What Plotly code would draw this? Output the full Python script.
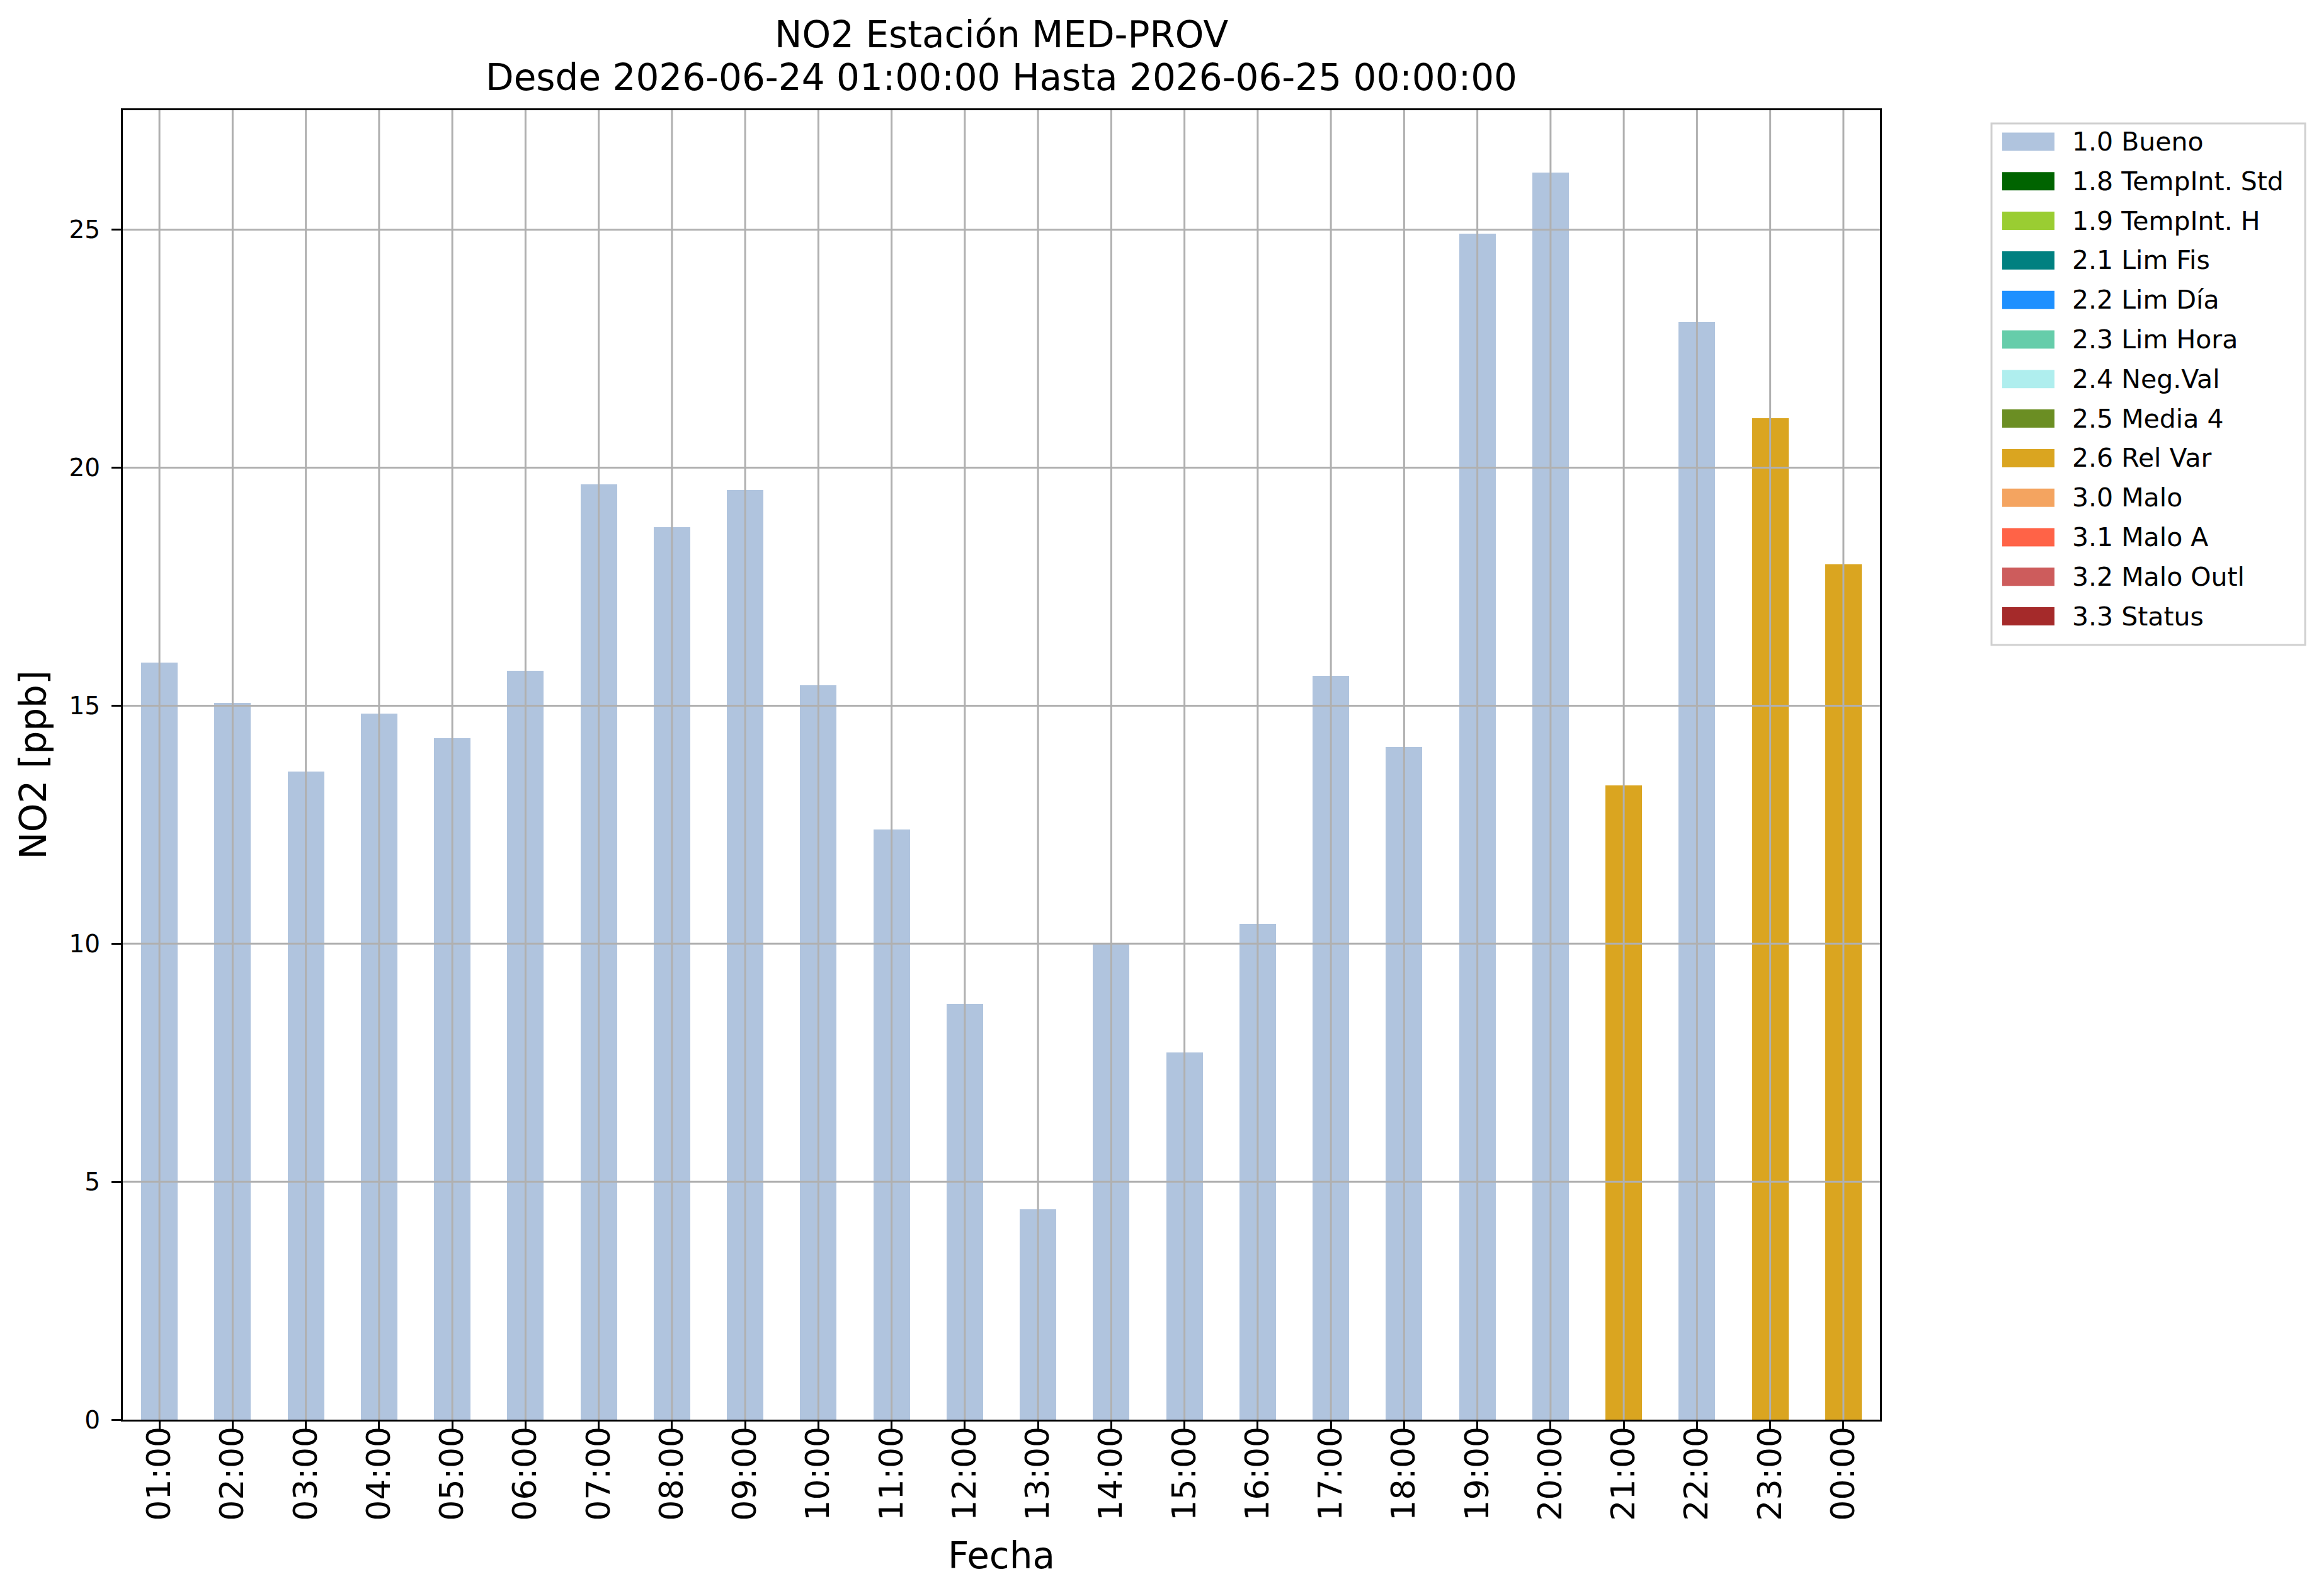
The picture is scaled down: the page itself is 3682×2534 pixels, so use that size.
import plotly.graph_objects as go

# hourly NO2 values, station MED-PROV
horas = ["01:00", "02:00", "03:00", "04:00", "05:00", "06:00", "07:00", "08:00",
         "09:00", "10:00", "11:00", "12:00", "13:00", "14:00", "15:00", "16:00",
         "17:00", "18:00", "19:00", "20:00", "21:00", "22:00", "23:00", "00:00"]
no2 = [15.90, 15.06, 13.62, 14.84, 14.32, 15.73, 19.65, 18.75,
       19.53, 15.43, 12.40, 8.74, 4.42, 10.00, 7.71, 10.42,
       15.63, 14.13, 24.92, 26.20, 13.32, 23.06, 21.04, 17.97]
flag_hora = ["1.0"] * 20 + ["2.6", "1.0", "2.6", "2.6"]

# quality flags (code, label, colour)
flag_codes = ["1.0", "1.8", "1.9", "2.1", "2.2", "2.3", "2.4", "2.5", "2.6",
              "3.0", "3.1", "3.2", "3.3"]
flag_labels = ["1.0 Bueno", "1.8 TempInt. Std", "1.9 TempInt. H", "2.1 Lim Fis",
               "2.2 Lim Día", "2.3 Lim Hora", "2.4 Neg.Val", "2.5 Media 4",
               "2.6 Rel Var", "3.0 Malo", "3.1 Malo A", "3.2 Malo Outl", "3.3 Status"]
flag_colors = ["#B0C4DE", "#006400", "#9ACD32", "#008080", "#1E90FF", "#66CDAA",
               "#AFEEEE", "#6B8E23", "#DAA520", "#F4A460", "#FF6347", "#CD5C5C",
               "#A52A2A"]

y_ticks = [0, 5, 10, 15, 20, 25]
titulo = ["NO2 Estación MED-PROV",
          "Desde 2026-06-24 01:00:00 Hasta 2026-06-25 00:00:00"]

W, H = 3682, 2534
L, R, T, B = 187, 2977, 167, 2246
FONT = "DejaVu Sans"
GRID = "#b0b0b0"


def px_x(p):
    return (p - L) / (R - L)


def px_y(p):
    return (B - p) / (B - T)


fig = go.Figure()
for code, lab, col in zip(flag_codes, flag_labels, flag_colors):
    vals = [v if f == code else None for v, f in zip(no2, flag_hora)]
    fig.add_trace(go.Bar(x=horas, y=vals, name=lab, marker_color=col,
                         marker_line_width=0, showlegend=False))

# grid on top of the bars, like the original
for h in horas:
    fig.add_shape(type="line", xref="x", yref="paper", x0=h, x1=h, y0=0, y1=1,
                  line=dict(color=GRID, width=3), layer="above")
for t in y_ticks[1:]:
    fig.add_shape(type="line", xref="paper", yref="y", x0=0, x1=1, y0=t, y1=t,
                  line=dict(color=GRID, width=3), layer="above")

# two-line title
for i, txt in enumerate(titulo):
    fig.add_annotation(text=txt, xref="paper", yref="paper", x=0.5, y=px_y(47 + 68 * i),
                       xanchor="center", yanchor="middle", showarrow=False,
                       font=dict(family=FONT, size=58, color="black"))

# legend box drawn by hand so the swatches are wide rectangles
fig.add_shape(type="rect", xref="paper", yref="paper",
              x0=px_x(3154), x1=px_x(3652), y0=px_y(188), y1=px_y(1016),
              line=dict(color="#d0d0d0", width=3), fillcolor="white", layer="above")
for i, (lab, col) in enumerate(zip(flag_labels, flag_colors)):
    yc = 217 + 62.8 * i
    fig.add_shape(type="rect", xref="paper", yref="paper",
                  x0=px_x(3171), x1=px_x(3254), y0=px_y(yc + 14.5), y1=px_y(yc - 14.5),
                  line_width=0, fillcolor=col, layer="above")
    fig.add_annotation(text=lab, xref="paper", yref="paper", x=px_x(3280), y=px_y(yc),
                       xanchor="left", yanchor="middle", showarrow=False,
                       font=dict(family=FONT, size=41, color="black"))

fig.update_layout(
    width=W, height=H,
    margin=dict(l=L, r=W - R, t=T, b=H - B),
    paper_bgcolor="white", plot_bgcolor="white",
    barmode="stack", bargap=0.5,
    font=dict(family=FONT, color="black"),
)
fig.update_xaxes(
    type="category", categoryorder="array", categoryarray=horas,
    range=[-0.5, len(horas) - 0.5],
    showgrid=False, showline=True, linecolor="black", linewidth=3, mirror=True,
    ticks="outside", ticklen=15, tickwidth=3, tickcolor="black",
    tickangle=-90, tickfont=dict(family=FONT, size=52, color="black"),
    ticklabelstandoff=-28,
    title=dict(text="Fecha", font=dict(family=FONT, size=58, color="black"), standoff=36),
)
fig.update_yaxes(
    range=[0, max(no2) * 1.05], tickvals=y_ticks,
    showgrid=False, zeroline=False, showline=True, linecolor="black", linewidth=3,
    mirror=True, ticks="outside", ticklen=15, tickwidth=3, tickcolor="black",
    tickfont=dict(family=FONT, size=39, color="black"),
    ticklabelstandoff=10,
    title=dict(text="NO2 [ppb]", font=dict(family=FONT, size=58, color="black"), standoff=18),
)

fig.write_html("out.html")
